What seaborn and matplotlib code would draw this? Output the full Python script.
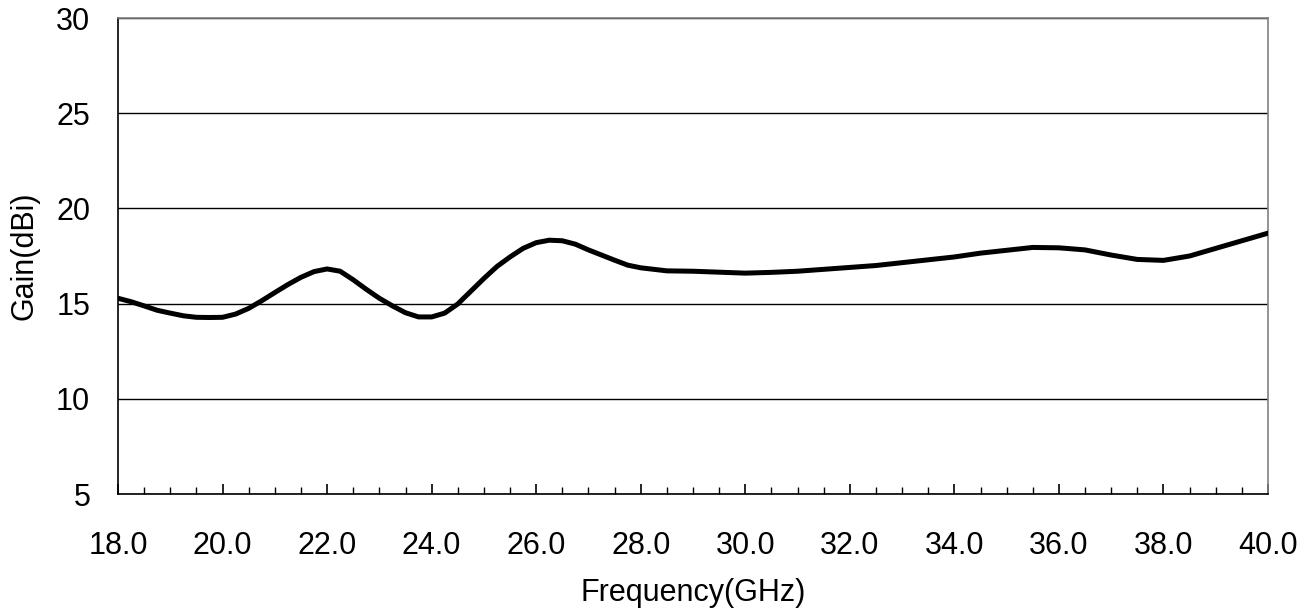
import numpy as np
import pandas as pd
import matplotlib
matplotlib.use("Agg")
import matplotlib.pyplot as plt
import seaborn as sns
from matplotlib.ticker import MultipleLocator, FormatStrFormatter

freq_ghz = [18.0, 18.25, 18.5, 18.75, 19.0, 19.25, 19.5, 19.75, 20.0, 20.25,
            20.5, 20.75, 21.0, 21.25, 21.5, 21.75, 22.0, 22.25, 22.5, 22.75,
            23.0, 23.25, 23.5, 23.75, 24.0, 24.25, 24.5, 24.75, 25.0, 25.25,
            25.5, 25.75, 26.0, 26.25, 26.5, 26.75, 27.0, 27.25, 27.5, 27.75,
            28.0, 28.5, 29.0, 29.5, 30.0, 30.5, 31.0, 31.5, 32.0, 32.5,
            33.0, 33.5, 34.0, 34.5, 35.0, 35.5, 36.0, 36.5, 37.0, 37.5,
            38.0, 38.5, 39.0, 39.5, 40.0]
gain_dbi = [15.28, 15.1, 14.88, 14.65, 14.5, 14.36, 14.28, 14.27, 14.28, 14.45,
            14.75, 15.15, 15.58, 16.0, 16.38, 16.68, 16.82, 16.7, 16.25, 15.75,
            15.28, 14.88, 14.52, 14.3, 14.3, 14.5, 14.98, 15.65, 16.32, 16.95,
            17.45, 17.9, 18.2, 18.33, 18.3, 18.12, 17.82, 17.55, 17.28, 17.02,
            16.88, 16.72, 16.7, 16.65, 16.6, 16.64, 16.7, 16.8, 16.9, 17.0,
            17.15, 17.3, 17.45, 17.65, 17.8, 17.95, 17.93, 17.82, 17.55, 17.32,
            17.27, 17.5, 17.9, 18.3, 18.7]
x_ticks = [18.0, 20.0, 22.0, 24.0, 26.0, 28.0, 30.0, 32.0, 34.0, 36.0, 38.0, 40.0]
y_ticks = [5, 10, 15, 20, 25, 30]

df = pd.DataFrame({"Frequency(GHz)": freq_ghz, "Gain(dBi)": gain_dbi})

sns.set_style("white")
plt.rcParams["font.family"] = ["Liberation Sans", "DejaVu Sans"]
plt.rcParams["text.color"] = "black"
plt.rcParams["axes.labelcolor"] = "black"
plt.rcParams["xtick.color"] = "black"
plt.rcParams["ytick.color"] = "black"

fig = plt.figure(figsize=(13.06, 6.13), dpi=100)
ax = fig.add_axes([118/1306, 1 - 494/613, (1268-118)/1306, (494-18)/613])

sns.lineplot(data=df, x="Frequency(GHz)", y="Gain(dBi)", ax=ax,
             color="black", linewidth=3.6, zorder=3)

ax.set_xlim(18, 40)
ax.set_ylim(5, 30)
ax.set_xticks(x_ticks)
ax.xaxis.set_major_formatter(FormatStrFormatter("%.1f"))
ax.xaxis.set_minor_locator(MultipleLocator(0.5))
ax.set_yticks(y_ticks)

ax.yaxis.grid(True, color="black", linewidth=1.0)
ax.xaxis.grid(False)
ax.set_axisbelow(True)

ax.tick_params(axis="x", which="major", direction="in", length=7, width=1.2,
               color="black", labelsize=22, labelcolor="black", pad=27, bottom=True)
ax.tick_params(axis="x", which="minor", direction="in", length=5, width=1.0,
               color="black", bottom=True)
ax.tick_params(axis="y", length=0, labelsize=22, labelcolor="black", pad=20)

for s in ["left", "bottom"]:
    ax.spines[s].set_color("black")
    ax.spines[s].set_linewidth(1.2)
for s in ["top", "right"]:
    ax.spines[s].set_color("#808080")
    ax.spines[s].set_linewidth(1.2)

ax.set_xlabel("Frequency(GHz)", fontsize=22, color="black", labelpad=12)
ax.set_ylabel("Gain(dBi)", fontsize=22, color="black", labelpad=12)

fig.savefig("out.png", dpi=100, facecolor="white")
